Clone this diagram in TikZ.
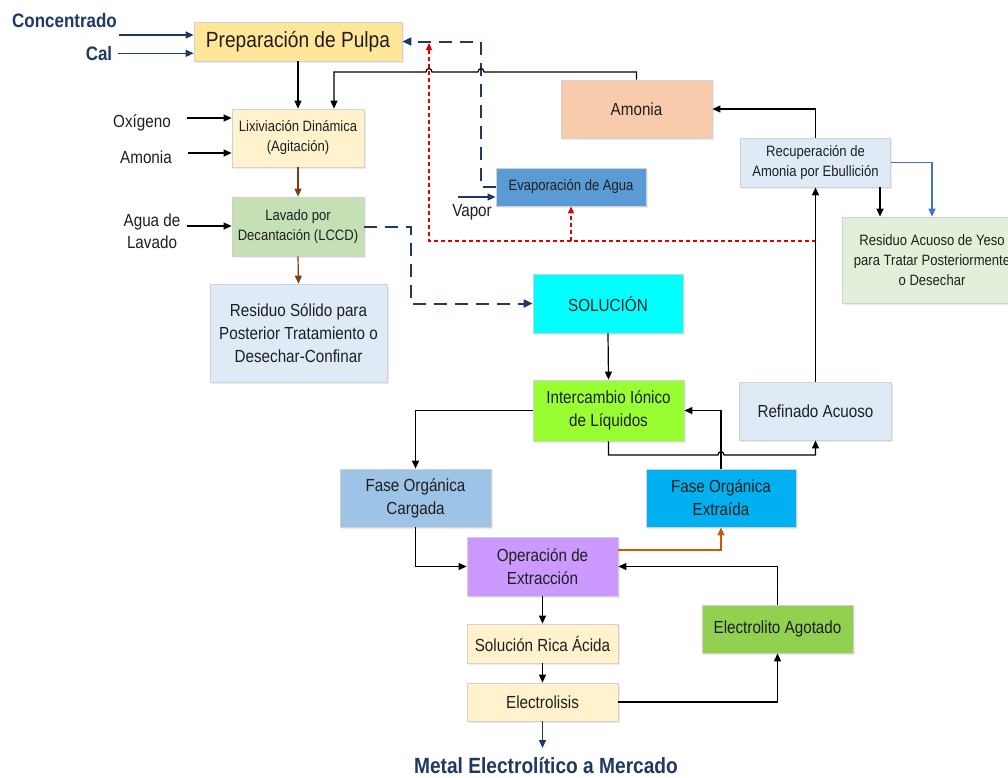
\documentclass[tikz,border=0pt]{standalone}
\usepackage{fontspec}
\setmainfont{Liberation Sans}[FakeStretch=0.87]
\usetikzlibrary{arrows.meta,shadows}
\definecolor{navy}{HTML}{1F3864}
\definecolor{cPrep}{HTML}{FFE699}
\definecolor{cCream}{HTML}{FFF2CC}
\definecolor{cLav}{HTML}{C5E0B4}
\definecolor{cPale}{HTML}{DEEBF7}
\definecolor{cSol}{HTML}{00FFFF}
\definecolor{cEvap}{HTML}{5B9BD5}
\definecolor{cAmon}{HTML}{F8CBAD}
\definecolor{cResA}{HTML}{E2F0D9}
\definecolor{cInter}{HTML}{99FF33}
\definecolor{cFcar}{HTML}{9DC3E6}
\definecolor{cFext}{HTML}{00B0F0}
\definecolor{cOper}{HTML}{CC99FF}
\definecolor{cEago}{HTML}{92D050}
\definecolor{cRed}{HTML}{E00000}
\definecolor{cBrown}{HTML}{843C0C}
\definecolor{cOrange}{HTML}{C55A11}
\definecolor{cBlue}{HTML}{4472C4}
\begin{document}
\begin{tikzpicture}[x=1pt,y=-1pt,
  box/.style={draw=black!18, line width=0.8pt, inner sep=0pt, align=center, text=black!88,
    drop shadow={opacity=0.15,shadow xshift=1.5pt,shadow yshift=-1.5pt}},
  fM/.style={font=\fontsize{17.5}{23}\selectfont},
  fS/.style={font=\fontsize{15}{20}\selectfont},
  lbl/.style={inner sep=0pt, align=center, text=black!88, font=\fontsize{17.5}{22}\selectfont},
  blbl/.style={inner sep=0pt, text=navy, font=\fontsize{19.5}{22}\selectfont\bfseries},
  tip/.style={-{Triangle[length=8pt,width=7pt]}},
  arr/.style={line width=1.2pt, tip},
  navarr/.style={line width=1.4pt, navy, tip},
  navdash/.style={line width=2pt, navy, dash pattern=on 13pt off 8pt, -{Triangle[length=9pt,width=8pt]}},
  reddash/.style={line width=1.2pt, cRed, dash pattern=on 4pt off 3pt, -{Triangle[length=7pt,width=6pt]}},
]
\useasboundingbox (0,0) rectangle (1008,777);
\clip (0,0) rectangle (1008,777);
\fill[white] (0,0) rectangle (1008,777);

% boxes
\node[box,fill=cPrep,minimum width=208pt,minimum height=39pt,font=\fontsize{22}{26}\selectfont] (prep) at (298,41.5) {Preparación de Pulpa};
\node[box,fS,fill=cCream,minimum width=132pt,minimum height=58pt] (lix) at (298,138) {Lixiviación Dinámica\\(Agitación)};
\node[box,fS,fill=cLav,minimum width=132pt,minimum height=59pt] (lav) at (298,226.5) {Lavado por\\Decantación (LCCD)};
\node[box,fM,fill=cPale,minimum width=177pt,minimum height=98pt] (resS) at (298.5,333) {Residuo Sólido para\\Posterior Tratamiento o\\Desechar-Confinar};
\node[box,fM,fill=cSol,minimum width=150pt,minimum height=59pt] (sol) at (608,303.5) {SOLUCIÓN};
\node[box,fS,fill=cEvap,minimum width=150pt,minimum height=38pt] (evap) at (571,187) {Evaporación de Agua};
\node[box,fM,fill=cAmon,minimum width=151pt,minimum height=58pt] (amon) at (636.5,109) {Amonia};
\node[box,fS,fill=cPale,minimum width=150pt,minimum height=49pt] (recu) at (815.5,162.5) {Recuperación de\\Amonia por Ebullición};
\node[box,fS,fill=cResA,minimum width=180pt,minimum height=86pt] (resA) at (932,260) {Residuo Acuoso de Yeso\\para Tratar Posteriormente\\o Desechar};
\node[box,fM,fill=cInter,minimum width=151pt,minimum height=61pt] (inter) at (608.5,410.5) {Intercambio Iónico\\de Líquidos};
\node[box,fM,fill=cPale,minimum width=152pt,minimum height=58pt] (refi) at (815.5,411) {Refinado Acuoso};
\node[box,fM,fill=cFcar,minimum width=151pt,minimum height=58pt] (fcar) at (415.5,498) {Fase Orgánica\\Cargada};
\node[box,fM,fill=cFext,minimum width=150pt,minimum height=58pt] (fext) at (721,498) {Fase Orgánica\\Extraída};
\node[box,fM,fill=cOper,minimum width=151pt,minimum height=59pt] (oper) at (542.5,566.5) {Operación de\\Extracción};
\node[box,fM,fill=cCream,minimum width=151pt,minimum height=39pt] (srica) at (542.5,643.5) {Solución Rica Ácida};
\node[box,fM,fill=cCream,minimum width=151pt,minimum height=38pt] (elec) at (542.5,702) {Electrolisis};
\node[box,fM,fill=cEago,minimum width=151pt,minimum height=48pt] (eago) at (777.5,629) {Electrolito Agotado};

% labels
\node[blbl] (tconc) at (64.5,21) {Concentrado};
\node[blbl] (tcal) at (99,54) {Cal};
\node[lbl] (toxi) at (142,123) {Oxígeno};
\node[lbl] (tamo) at (146,157) {Amonia};
\node[lbl] (tagua) at (152,231) {Agua de\\Lavado};
\node[lbl] (tvap) at (472,212) {Vapor};
\node[inner sep=0pt, text=navy, font=\fontsize{22}{26}\selectfont\bfseries] (tmet) at (546,766) {Metal Electrolítico a Mercado};

% free ends
\coordinate (cin) at (119,35);
\coordinate (calin) at (118,53.3);
\coordinate (oxin) at (187,118);
\coordinate (amin) at (188,153);
\coordinate (agin) at (187,226);
\coordinate (vapin) at (458,197);
\coordinate (rj) at (815.5,241);
\coordinate (rk) at (429,241);
\coordinate (rb) at (571,241);
\coordinate (rtop) at (429,43);
\coordinate (mkt) at (542.5,748);

% inputs
\draw[navarr] (cin) -- (cin -| prep.west);
\draw[navarr] (calin) -- (calin -| prep.west);
\draw[arr] (oxin) -- (oxin -| lix.west);
\draw[arr] (amin) -- (amin -| lix.west);
\draw[arr] (agin) -- (agin -| lav.west);
\draw[navarr,line width=1.2pt] (vapin) -- (vapin -| evap.west);

% main chain left
\draw[arr] (prep.south) -- (lix.north);
\draw[arr,cBrown] (lix.south) -- (lav.north);
\draw[arr,cBrown] (lav.south) -- (resS.north);
\draw[navdash] (lav.east) -- ++(47,0) |- (sol.west);
\draw[navdash] (evap.west) -- ++(-15,0) |- (prep.east);

% red dashed recycle
\draw[reddash] (rj) -- (rk) -- (rtop);
\draw[reddash] (rb) -- (evap.south);

% ammonia return with hops
\draw[arr] (amon.north) |- (484,72) .. controls (484,67.5) and (478,67.5) .. (478,72) -- (432,72)
  .. controls (432,67.5) and (426,67.5) .. (426,72) -| ([xshift=36pt]lix.north);

% right side
\draw[arr] (recu.north) |- (amon.east);
\draw[arr] ([xshift=64.5pt]recu.south) -- ([xshift=64.5pt]recu.south |- resA.north);
\draw[arr,cBlue] (recu.east) -| (resA.north);
\draw[arr] (refi.north) -- (recu.south);

% solvent extraction
\draw[arr] (sol.south) -- (inter.north);
\draw[arr] (inter.west) -| (fcar.north);
\draw[arr] (inter.south) |- (718,455) .. controls (718,450.5) and (724,450.5) .. (724,455) -| (refi.south);
\draw[arr] (fext.north) |- (inter.east);
\draw[arr] (fcar.south) |- (oper.west);
\draw[arr,cOrange] ([yshift=16.5pt]oper.east) -| (fext.south);
\draw[arr] (eago.north) |- (oper.east);
\draw[arr] (oper.south) -- (srica.north);
\draw[arr] (srica.south) -- (elec.north);
\draw[arr] (elec.east) -| (eago.south);
\draw[navarr] (elec.south) -- (mkt);
\end{tikzpicture}
\end{document}
